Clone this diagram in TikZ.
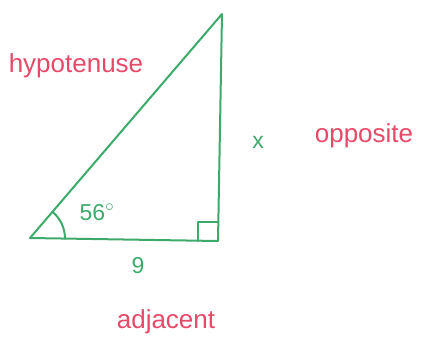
\documentclass[tikz,border=0pt]{standalone}
\usepackage{fontspec}
\setmainfont{Liberation Sans}
\usepackage{xcolor}
\usetikzlibrary{positioning, calc}
\definecolor{penGreen}{HTML}{3DAA6C}
\definecolor{penRed}{HTML}{E64A68}

\begin{document}
\begin{tikzpicture}[
  x=1pt, y=-1pt,
  side/.style={draw=penGreen, line width=2pt, line cap=round, line join=round},
  word/.style={text=penRed, font=\fontsize{26}{30}\selectfont, inner sep=0pt},
  value/.style={text=penGreen, font=\fontsize{23}{27}\selectfont, inner sep=0pt}
]
\useasboundingbox (0,0) rectangle (430,354);
\coordinate (A) at (30,238);
\coordinate (B) at (218,241);
\coordinate (C) at (222,14);
\draw[side] (A) -- (B) -- (C) -- cycle;
\draw[side] ($(A)+(35,0.6)$) arc[start angle=0, end angle=-49, radius=35];
\draw[side] ($(B)+(-20,0)$) -- ++(0,-19) -- ++(20,0);
\node[value] (ang) at (97,212) {56$^{\circ}$};
\node[value] (adjval) at (138,266) {9};
\node[value] (oppval) at (258,142) {x};
\node[word] (hyp) at (76,66) {hypotenuse};
\node[word] (opp) at (364,136) {opposite};
\node[word] (adj) at (166,322) {adjacent};
\end{tikzpicture}
\end{document}
